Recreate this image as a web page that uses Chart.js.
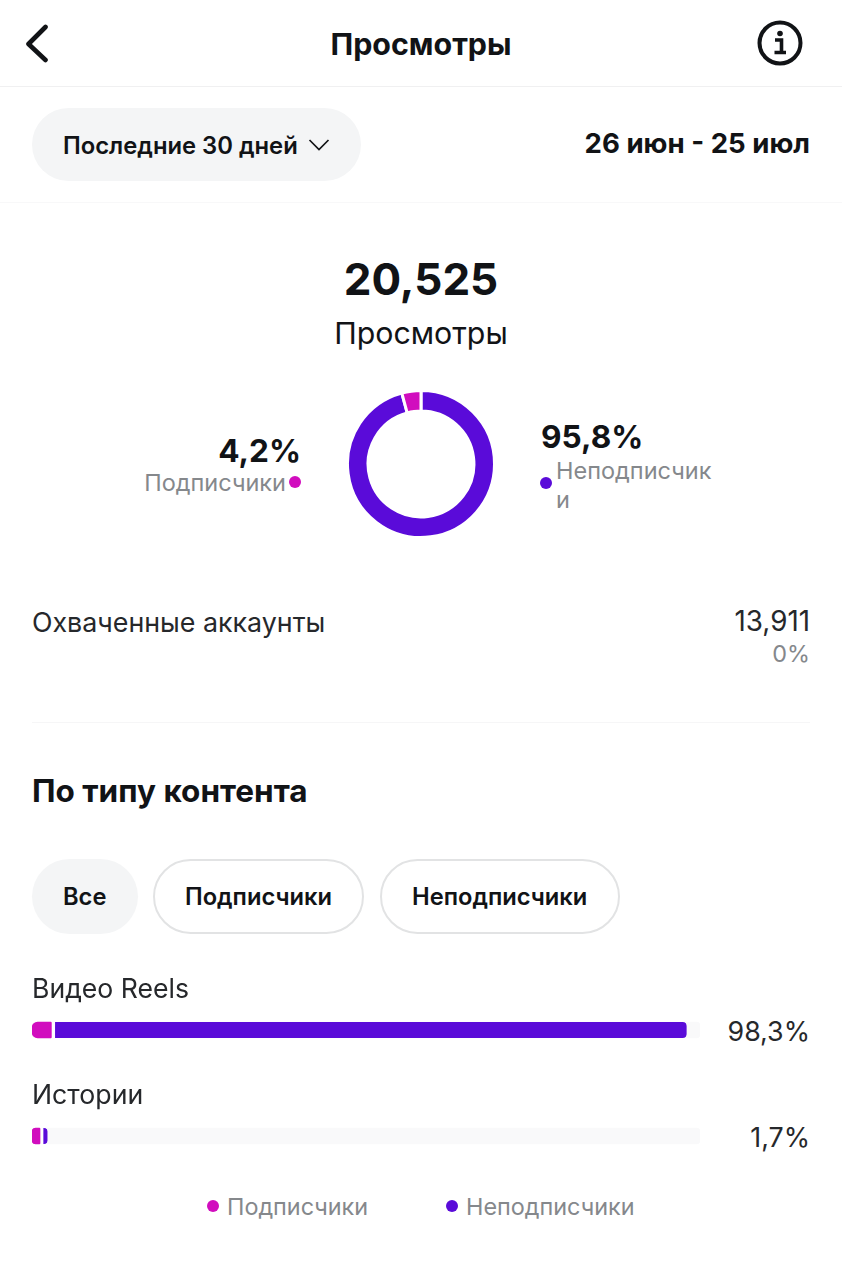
<!DOCTYPE html>
<html lang="ru">
<head>
<meta charset="utf-8">
<title>Просмотры</title>
<script src="https://cdn.jsdelivr.net/npm/chart.js@4"></script>
<style>
  html, body { margin: 0; padding: 0; background: #fff; }
  body { position: relative; width: 842px; height: 1280px; overflow: hidden; font-family: Inter, "Noto Sans", sans-serif; color: #111316; }
  .t { position: absolute; white-space: nowrap; line-height: 1; }
  .b { font-weight: 700; }
  .grey { color: #85888c; }
  .line { position: absolute; height: 1px; background: #f0f0f1; }
  .pill { position: absolute; box-sizing: border-box; border-radius: 38px; }
  .dot { position: absolute; width: 12px; height: 12px; border-radius: 50%; }
  canvas { position: absolute; }
  svg { position: absolute; }
</style>
</head>
<body>
<svg style="left:24px;top:24px" width="28" height="40" viewBox="0 0 28 40"><path d="M21.5 3 L4.5 20 L21.5 36" fill="none" stroke="#111316" stroke-width="4.6" stroke-linecap="round" stroke-linejoin="round"/></svg>
<div class="t b" style="left:0;width:842px;text-align:center;top:29px;font-size:30.4px">Просмотры</div>
<svg style="left:756px;top:19px" width="48" height="48" viewBox="0 0 48 48"><circle cx="24" cy="24" r="20.5" fill="none" stroke="#111316" stroke-width="4"/><circle cx="24" cy="14.5" r="2.8" fill="#111316"/><path d="M19 21 H25.5 V33 M18.5 33.5 H30" fill="none" stroke="#111316" stroke-width="3.6"/></svg>
<div class="line" style="left:0;right:0;top:86px"></div>

<div class="pill" style="left:32px;top:108px;width:329px;height:73px;background:#f4f5f6"></div>
<div class="t" style="left:63px;top:134px;font-size:23.8px;font-weight:600">Последние 30 дней</div>
<svg style="left:307px;top:137px" width="24" height="16" viewBox="0 0 24 16"><path d="M2.5 3 L12 12.5 L21.5 3" fill="none" stroke="#111316" stroke-width="1.7"/></svg>
<div class="t b" style="right:32px;top:130px;font-size:27.6px">26 июн - 25 июл</div>
<div class="line" style="left:0;right:0;top:202px;background:#f8f8f9"></div>

<div class="t b" style="left:0;width:842px;text-align:center;top:257px;font-size:44px">20,525</div>
<div class="t" style="left:0;width:842px;text-align:center;top:318px;font-size:30.3px">Просмотры</div>

<canvas id="donut" width="150" height="150" style="left:346px;top:389px;width:150px;height:150px"></canvas>

<div class="t b" id="subPct" style="right:541px;top:435px;font-size:31.6px"></div>
<div class="t grey" id="subName" style="right:556px;top:471px;font-size:23.5px"></div>
<div class="dot" style="left:289px;top:476px;background:#d10dbe"></div>
<div class="t b" id="nonPct" style="left:541px;top:421px;font-size:31.6px"></div>
<div class="t grey" id="nonName" style="left:556px;top:456px;font-size:23.5px;line-height:29px;width:160px;white-space:normal;word-break:break-all"></div>
<div class="dot" style="left:540px;top:477px;background:#5a0bd9"></div>

<div class="t" style="left:32px;top:609px;font-size:26.8px;color:#26282b">Охваченные аккаунты</div>
<div class="t" style="right:32px;top:608px;font-size:27.8px;color:#26282b">13,911</div>
<div class="t grey" style="right:32px;top:642px;font-size:23.4px">0%</div>
<div class="line" style="left:32px;right:32px;top:722px;background:#f6f6f7"></div>

<div class="t b" style="left:32px;top:775px;font-size:31.5px">По типу контента</div>

<div class="pill" style="left:32px;top:859px;width:106px;height:75px;background:#f4f5f6"></div>
<div class="t" style="left:63px;top:885px;font-size:23.7px;font-weight:600">Все</div>
<div class="pill" style="left:153px;top:859px;width:211px;height:75px;border:2px solid #e2e3e4"></div>
<div class="t" style="left:185px;top:885px;font-size:23.7px;font-weight:600">Подписчики</div>
<div class="pill" style="left:380px;top:859px;width:240px;height:75px;border:2px solid #e2e3e4"></div>
<div class="t" style="left:412px;top:885px;font-size:23.7px;font-weight:600">Неподписчики</div>

<canvas id="bars" width="668" height="212" style="left:32px;top:977px;width:668px;height:212px"></canvas>

<div class="t" id="cat0" style="left:32px;top:975px;font-size:26.6px;color:#26282b"></div>
<div class="t" id="share0" style="right:32px;top:1018px;font-size:26.8px;color:#26282b"></div>
<div class="t" id="cat1" style="left:32px;top:1081px;font-size:26.7px;color:#26282b"></div>
<div class="t" id="share1" style="right:32px;top:1124px;font-size:26.8px;color:#26282b"></div>

<div class="dot" style="left:207px;top:1200px;background:#d10dbe"></div>
<div class="t grey" id="leg0" style="left:227px;top:1195px;font-size:23.4px"></div>
<div class="dot" style="left:446px;top:1200px;background:#5a0bd9"></div>
<div class="t grey" id="leg1" style="left:466px;top:1195px;font-size:23.4px"></div>

<script>
const audience = ["Подписчики", "Неподписчики"];
const audienceValues = [4.2, 95.8];
const audienceLabels = ["4,2%", "95,8%"];

const contentTypes = ["Видео Reels", "Истории"];
const shareLabels = ["98,3%", "1,7%"];
const subscriberBars = [2.9, 1.2];
const nonSubscriberBars = [95.1, 1.1];
const trackBars = [100, 100];

const PINK = "#d10dbe";
const PURPLE = "#5a0bd9";

// texts
document.getElementById("subPct").textContent = audienceLabels[0];
document.getElementById("subName").textContent = audience[0];
document.getElementById("nonPct").textContent = audienceLabels[1];
document.getElementById("nonName").textContent = audience[1];
document.getElementById("leg0").textContent = audience[0];
document.getElementById("leg1").textContent = audience[1];
contentTypes.forEach(function (name, i) {
  document.getElementById("cat" + i).textContent = name;
  document.getElementById("share" + i).textContent = shareLabels[i];
});

// doughnut, purple goes first so the pink slice ends at 12 o'clock
new Chart(document.getElementById("donut").getContext("2d"), {
  type: "doughnut",
  data: {
    labels: [audience[1], audience[0]],
    datasets: [{
      data: [audienceValues[1], audienceValues[0]],
      backgroundColor: [PURPLE, PINK],
      borderColor: "#fff",
      borderWidth: 3
    }]
  },
  options: {
    responsive: false,
    animation: false,
    cutout: "72%",
    plugins: { legend: { display: false }, tooltip: { enabled: false } }
  }
});

// stacked bars over a pale track
new Chart(document.getElementById("bars").getContext("2d"), {
  type: "bar",
  data: {
    labels: contentTypes,
    datasets: [
      {
        label: audience[0],
        data: subscriberBars,
        stack: "share",
        grouped: false,
        order: 1,
        barThickness: 16,
        backgroundColor: PINK,
        borderWidth: 0,
        borderRadius: { topLeft: 6, bottomLeft: 6, topRight: 1, bottomRight: 1 },
        borderSkipped: false
      },
      {
        label: audience[1],
        data: nonSubscriberBars,
        stack: "share",
        grouped: false,
        order: 1,
        barThickness: 16,
        backgroundColor: PURPLE,
        borderColor: "#fff",
        borderWidth: { left: 4, right: 0, top: 0, bottom: 0 },
        borderRadius: { topLeft: 0, bottomLeft: 0, topRight: 4, bottomRight: 4 },
        borderSkipped: false
      },
      {
        label: "track",
        data: trackBars,
        stack: "track",
        grouped: false,
        order: 2,
        barThickness: 16,
        backgroundColor: "#f9f9fa",
        borderWidth: 0,
        borderRadius: 4,
        borderSkipped: false
      }
    ]
  },
  options: {
    indexAxis: "y",
    responsive: false,
    animation: false,
    scales: {
      x: { stacked: true, min: 0, max: 100, display: false },
      y: { stacked: true, display: false }
    },
    plugins: { legend: { display: false }, tooltip: { enabled: false } }
  }
});
</script>
</body>
</html>
